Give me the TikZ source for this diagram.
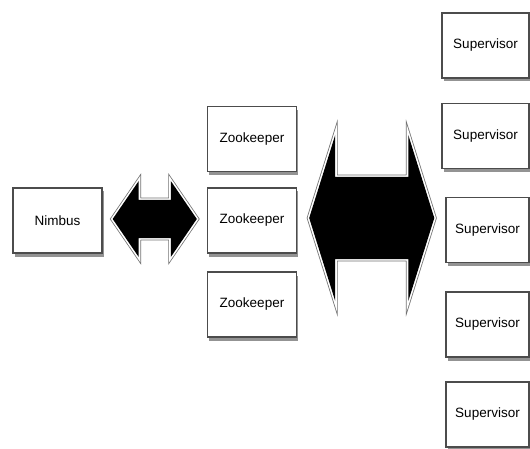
\documentclass[tikz,border=0pt]{standalone}
\usepackage{fontspec}
\setmainfont{Liberation Sans}
\usetikzlibrary{calc,shadows}
\def\fatarrow(#1)(#2)(#3:#4:#5){\fill[fatline] (#1) -- ++(#3,-#4) -- ++(0,{#4-#5}) -- ($(#2)+(-#3,-#5)$) -- ++(0,{#5-#4}) -- (#2) -- ++(-#3,#4) -- ++(0,{#5-#4}) -- ($(#1)+(#3,#5)$) -- ++(0,{#4-#5}) -- cycle;}

\begin{document}
\begin{tikzpicture}[x=1pt,y=-1pt,
	box/.style={draw=black!70, line width=1.4pt, fill=white, minimum width=89pt, minimum height=65pt, inner sep=0pt,
		font=\fontsize{13.5}{15}\selectfont,
		drop shadow={shadow xshift=1.5pt, shadow yshift=-3.5pt, fill=black!70, opacity=0.6}},
	fatline/.style={black, line join=round, preaction={draw=black!55, line width=4.8pt}, preaction={draw=white, line width=3.2pt}}]
			%%%%% START %%%%%
			
			\useasboundingbox[fill=white] (0,0) rectangle (530,449);
			
			\node[box] (nimbus) at (57.5, 220.5) {Nimbus};
			
			\node[box] (zk1) at (252, 139) {Zookeeper};
			\node[box] (zk2) at (252, 220.5) {Zookeeper};
			\node[box] (zk3) at (252, 304.5) {Zookeeper};
			
			\node[box, minimum width=87pt] (sup1) at (485.5, 45.5) {Supervisor};
			\node[box, minimum width=87pt] (sup2) at (485.5, 136) {Supervisor};
			\node[box, minimum width=83pt] (sup3) at (487.5, 230) {Supervisor};
			\node[box, minimum width=83pt] (sup4) at (487.5, 324.5) {Supervisor};
			\node[box, minimum width=83pt] (sup5) at (487.5, 414.5) {Supervisor};
			
			\coordinate (n-l) at ($(nimbus.east)+(10,-1.5)$);
			\coordinate (n-r) at ($(nimbus.east -| zk2.west)+(-10,-1.5)$);
			\fatarrow(n-l)(n-r)(26:38:19);
			
			\coordinate (z-l) at ($(zk2.east)+(12,-2.5)$);
			\coordinate (z-r) at ($(zk2.east -| sup3.west)+(-11,-2.5)$);
			\fatarrow(z-l)(z-r)(26:83:41);
			
			%%%%% END %%%%%
\end{tikzpicture}
\end{document}
